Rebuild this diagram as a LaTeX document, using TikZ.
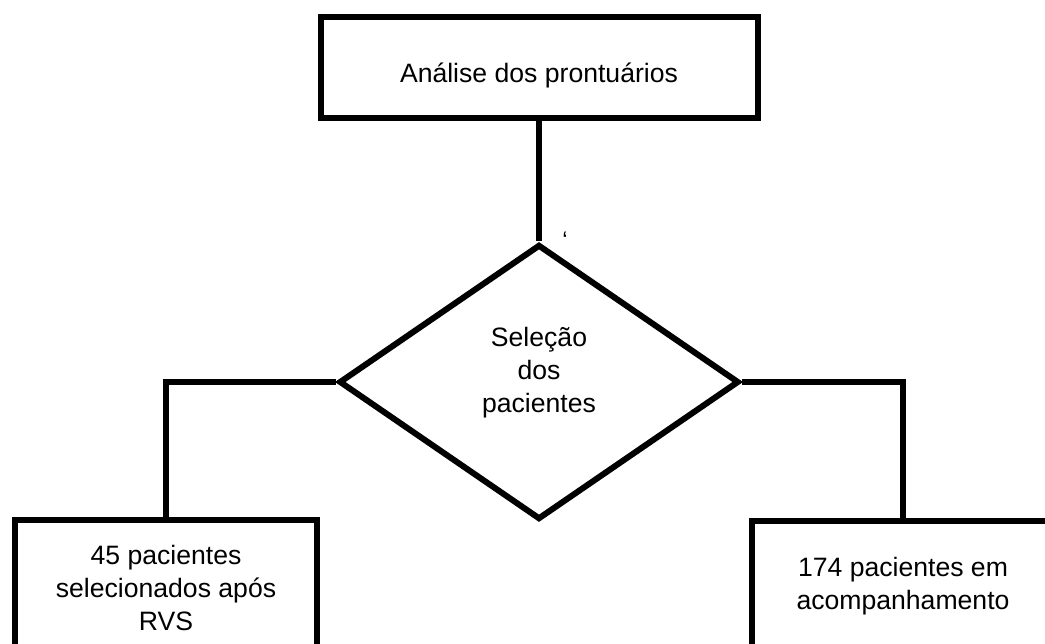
\documentclass[tikz,border=0pt]{standalone}
\usepackage{fontspec}
\setmainfont{Liberation Sans}
\usetikzlibrary{shapes.geometric, positioning}

\begin{document}
\begin{tikzpicture}[x=1pt, y=-1pt,
        every node/.append style={font=\fontsize{26.6}{33}\selectfont},
        caixa/.style={draw, line width=6pt, rectangle, align=center, inner sep=0pt},
        decisao/.style={draw, line width=6pt, diamond, inner sep=0pt,
            minimum width=400pt, minimum height=275pt},
        liga/.style={line width=6pt}]
        \useasboundingbox (0,0) rectangle (1045,644);
        \clip (0,0) rectangle (1045,644);
        \node[caixa, minimum width=437pt, minimum height=101pt,
            label={[yshift=-7pt]center:Análise dos prontuários}] (A) at (539,68) {};
        \node[decisao, label={[align=center, yshift=9pt]center:Seleção\\dos\\pacientes}] (S) at (539,382) {};
        \node[caixa, minimum width=302pt, minimum height=136pt] (P45) at (166,588) {45 pacientes\\selecionados após\\RVS};
        \node[caixa, minimum width=302pt, minimum height=130pt] (P174) at (903,586) {174 pacientes em\\acompanhamento};
        \node[font=\fontsize{24}{24}\selectfont] (aspas) at (565,240) {‘};
        \draw[liga] (A.south) -- (S.north);
        \draw[liga] (S.west) -| (P45.north);
        \draw[liga] (S.east) -| (P174.north);
    \end{tikzpicture}
\end{document}
